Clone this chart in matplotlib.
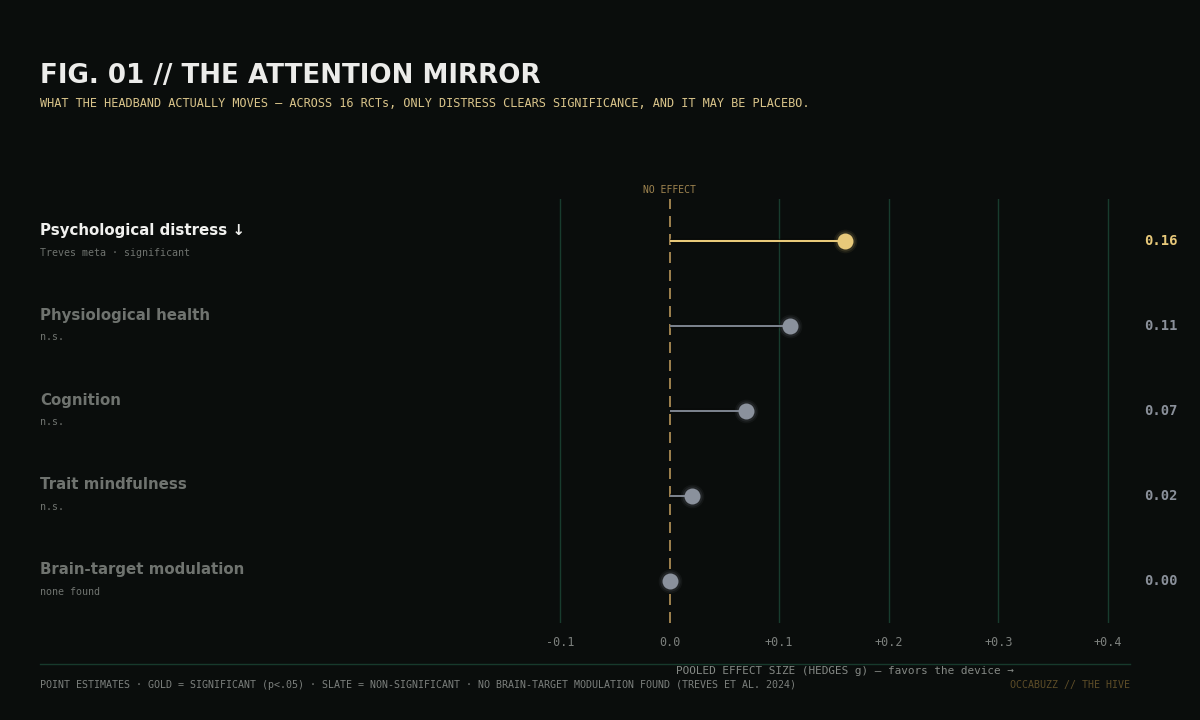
import matplotlib
matplotlib.use("Agg")
import matplotlib.pyplot as plt
import numpy as np

categories = ["Psychological distress ↓", "Physiological health", "Cognition",
              "Trait mindfulness", "Brain-target modulation"]
sublabels = ["Treves meta · significant", "n.s.", "n.s.", "n.s.", "none found"]
effects = [0.16, 0.11, 0.07, 0.02, 0.00]
significant = [True, False, False, False, False]
xticks = [-0.1, 0.0, 0.1, 0.2, 0.3, 0.4]
xticklabels = ["-0.1", "0.0", "+0.1", "+0.2", "+0.3", "+0.4"]

BG = "#0a0d0c"
GOLD = "#e8c97a"
SLATE = "#8a919c"
GRID = "#183c2e"
MONO = "DejaVu Sans Mono"

W, H = 1200, 720
fig = plt.figure(figsize=(12, 7.2), dpi=100, facecolor=BG)

x0, x1 = -0.105, 0.405
ppu = 1096.0
left_px = 560 - (-0.1 - x0) * ppu
width_px = (x1 - x0) * ppu
top_px, bot_px = 199, 623
ax = fig.add_axes([left_px / W, 1 - bot_px / H, width_px / W, (bot_px - top_px) / H])
ax.set_facecolor(BG)
ax.set_xlim(x0, x1)
ax.set_ylim(len(categories) - 0.5, -0.5)
for s in ax.spines.values():
    s.set_visible(False)
ax.set_yticks([])
ax.set_xticks(xticks)
ax.set_xticklabels(xticklabels, family=MONO, fontsize=8.5, color="#7c807d")
ax.tick_params(axis="x", length=0, pad=9.5)
for t in xticks:
    if t != 0:
        ax.axvline(t, color=GRID, lw=1, zorder=0)
ax.axvline(0, color="#b8955a", lw=1.2, ls=(0, (6.6, 4.2)), zorder=1)
ax.text(0, -0.55, "NO EFFECT", transform=ax.transData, ha="center", va="bottom",
        family=MONO, fontsize=7, color="#a08550")

for i, (v, sig) in enumerate(zip(effects, significant)):
    c = GOLD if sig else SLATE
    lc = GOLD if sig else "#7a818c"
    ax.plot([0, v], [i, i], color="#000000", lw=3.2, alpha=0.5, zorder=2, solid_capstyle="butt")
    ax.plot([0, v], [i, i], color=lc, lw=1.5, zorder=3, solid_capstyle="butt")
    for ms, a in [(17, 0.07), (14.5, 0.13)]:
        ax.plot([v], [i], "o", ms=ms, color=c, alpha=a, mec="none", zorder=4)
    ax.plot([v], [i], "o", ms=11.5, color=c, mec="none", zorder=5)
    ax.annotate(f"{v:.2f}", xy=(1178 / W, i), xycoords=("figure fraction", "data"),
                ha="right", va="center", family=MONO, fontsize=10, fontweight="bold",
                color=GOLD if sig else "#8a909a")
    ax.annotate(categories[i], xy=(40 / W, i), xycoords=("figure fraction", "data"),
                ha="left", va="center", fontsize=10.8, fontweight="bold",
                color="#f0f0ee" if sig else "#6f736f", xytext=(0, 7.8),
                textcoords="offset points")
    ax.annotate(sublabels[i], xy=(40 / W, i), xycoords=("figure fraction", "data"),
                ha="left", va="center", family=MONO, fontsize=7.2,
                color="#6f736f", xytext=(0, -8), textcoords="offset points")

fig.text(40 / W, 1 - 76 / H, "FIG. 01 // THE ATTENTION MIRROR", ha="left", va="center",
         fontsize=18.8, fontweight="bold", color="#ececea")
fig.text(40 / W, 1 - 103.5 / H,
         "WHAT THE HEADBAND ACTUALLY MOVES — ACROSS 16 RCTs, ONLY DISTRESS CLEARS SIGNIFICANCE, AND IT MAY BE PLACEBO.",
         ha="left", va="center", family=MONO, fontsize=8.6, color="#d9c48a")
fig.text(845 / W, 1 - 671 / H, "POOLED EFFECT SIZE (HEDGES g) — favors the device →",
         ha="center", va="center", family=MONO, fontsize=7.9, color="#858985")
fig.add_artist(plt.Line2D([40 / W, 1130 / W], [1 - 664 / H, 1 - 664 / H],
                          color="#173a2c", lw=1))
fig.text(40 / W, 1 - 685 / H,
         "POINT ESTIMATES · GOLD = SIGNIFICANT (p<.05) · SLATE = NON-SIGNIFICANT · NO BRAIN-TARGET MODULATION FOUND (TREVES ET AL. 2024)",
         ha="left", va="center", family=MONO, fontsize=7.18, color="#7c807d")
fig.text(1130 / W, 1 - 685 / H, "OCCABUZZ // THE HIVE", ha="right", va="center",
         family=MONO, fontsize=7.18, color="#5e4d28")

fig.savefig("out.png", dpi=100, facecolor=BG)
